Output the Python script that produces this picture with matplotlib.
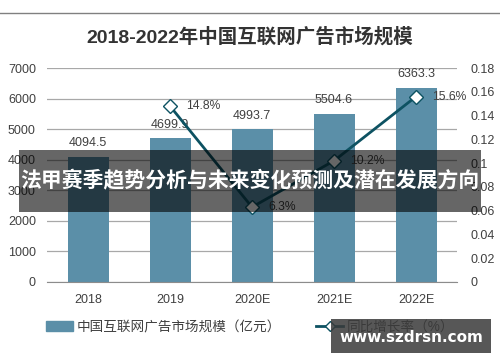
import matplotlib
matplotlib.use('Agg')
import matplotlib.pyplot as plt
from matplotlib.lines import Line2D
from matplotlib.patches import Patch, Rectangle

plt.rcParams['font.family'] = ['Liberation Sans', 'Noto Sans CJK SC']

years = ['2018', '2019', '2020E', '2021E', '2022E']
market = [4094.5, 4699.9, 4993.7, 5504.6, 6363.3]
growth_years = ['2019', '2020E', '2021E', '2022E']
growth = [0.148, 0.063, 0.102, 0.156]
growth_labels = ['14.8%', '6.3%', '10.2%', '15.6%']
left_ticks = [0, 1000, 2000, 3000, 4000, 5000, 6000, 7000]
right_ticks = [0, 0.02, 0.04, 0.06, 0.08, 0.1, 0.12, 0.14, 0.16, 0.18]

bar_color = '#5b8fa8'
line_color = '#0d5262'
txt = '#404040'

fig = plt.figure(figsize=(5, 3.62), dpi=100)
ax = fig.add_axes([0.094, 0.221, 0.82, 0.591])
ax2 = ax.twinx()

x = list(range(len(years)))
ax.bar(x, market, width=0.5, color=bar_color, zorder=2)
for xi, v in zip(x, market):
    ax.text(xi, v + 250, '%.1f' % v, ha='center', va='bottom', fontsize=9,
            color=txt)
ax.set_ylim(0, 7000)
ax.set_xlim(-0.5, 4.5)
ax.set_yticks(left_ticks)
ax.set_xticks(x)
ax.set_xticklabels(years)
ax.grid(axis='y', color='#a8a8a8', linewidth=0.9, zorder=0)
ax.set_axisbelow(True)
for s in ['top', 'left', 'right']:
    ax.spines[s].set_visible(False)
ax.spines['bottom'].set_color('#8c8c8c')
ax.tick_params(axis='y', length=0, labelsize=9, labelcolor=txt, pad=8)
ax.tick_params(axis='x', length=0, labelsize=9, labelcolor=txt, pad=9)

gx = [years.index(y) for y in growth_years]
ax2.plot(gx, growth, color=line_color, linewidth=2, marker='D', markersize=7,
         markerfacecolor='white', markeredgecolor=line_color, zorder=3)
for xi, v, lab in zip(gx, growth, growth_labels):
    ax2.text(xi + 0.2, v, lab, ha='left', va='center', fontsize=8.7,
             color=txt)
ax2.set_ylim(0, 0.18)
ax2.set_yticks(right_ticks)
ax2.set_yticklabels(['%g' % t for t in right_ticks])
for s in ['top', 'left', 'right', 'bottom']:
    ax2.spines[s].set_visible(False)
ax2.tick_params(length=0, labelsize=9, labelcolor=txt, pad=10)

fig.text(0.5, 0.897, '2018-2022年中国互联网广告市场规模', ha='center', va='center',
         fontsize=14, fontweight='bold', color='#333333')
fig.add_artist(Line2D([0, 1], [1 - 13 / 362, 1 - 13 / 362], color='#808080', linewidth=1))

handles = [Patch(color=bar_color),
           Line2D([], [], color=line_color, linewidth=2, marker='D', markersize=5,
                  markerfacecolor='white', markeredgecolor=line_color)]
fig.legend(handles, ['中国互联网广告市场规模（亿元）', '同比增长率（%）'],
           loc='center', bbox_to_anchor=(0.5, 1 - 327 / 362), ncol=2, frameon=False,
           fontsize=9.8, handlelength=2.0, handletextpad=0.25, columnspacing=2.6,
           labelcolor=txt)

# overlay banner
fig.add_artist(Rectangle((19 / 500, 1 - 212 / 362), 462 / 500, 62 / 362,
                         transform=fig.transFigure, facecolor='black', alpha=0.6,
                         edgecolor='none', zorder=10))
fig.text(0.5, 1 - 181 / 362, '法甲赛季趋势分析与未来变化预测及潜在发展方向', ha='center',
         va='center', fontsize=15, fontweight='bold', color='white', zorder=11,
         family='Noto Sans CJK SC')

# watermark
fig.add_artist(Rectangle((331 / 500, 1 - 353 / 362), 160 / 500, 34 / 362,
                         transform=fig.transFigure, facecolor='#3a3a3a', alpha=0.85,
                         edgecolor='none', zorder=10))
fig.text(411 / 500, 1 - 337 / 362, 'www.szdrsn.com', ha='center', va='center',
         fontsize=11, fontweight='bold', color='white', zorder=11, family='DejaVu Sans')

fig.savefig('out.png', dpi=100)
